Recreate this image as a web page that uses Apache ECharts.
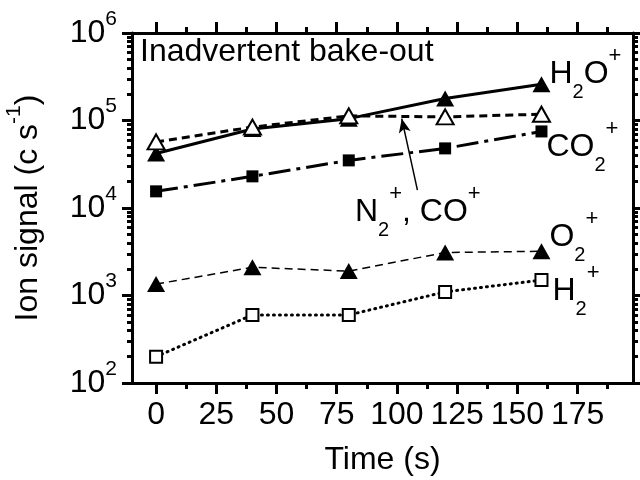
<!DOCTYPE html>
<html>
<head>
<meta charset="utf-8">
<script src="https://cdn.jsdelivr.net/npm/echarts@6/dist/echarts.min.js"></script>
<style>
  html, body { margin: 0; padding: 0; background: #fff; }
  #main { width: 640px; height: 480px; }
</style>
</head>
<body>
<div id="main"></div>
<script>
// time points (s) and ion signals (c s^-1)
var time = [0, 40, 80, 120, 160];
var h2o = [42000, 80000, 105000, 178000, 260000];
var n2co = [57000, 84000, 113000, 110000, 118000];
var co2 = [15500, 23000, 35000, 48000, 75000];
var o2 = [1350, 2100, 1900, 3100, 3200];
var h2 = [200, 600, 600, 1100, 1500];

var xMajor = [0, 25, 50, 75, 100, 125, 150, 175];
var xMinor = [12.5, 37.5, 62.5, 87.5, 112.5, 137.5, 162.5, 187.5];
var yMajor = [1e2, 1e3, 1e4, 1e5, 1e6];
var yMinor = [];
yMajor.slice(0, 4).forEach(function (d) {
  for (var k = 2; k <= 9; k++) yMinor.push(d * k);
});

// arrow pointing at the N2+/CO+ curve
var arrowFrom = [108.5, 16000];
var arrowTo = [102, 105000];

var font = "'Liberation Sans', Arial, sans-serif";

function pairs(ys) {
  return time.map(function (t, i) { return [t, ys[i]]; });
}

var rich = {
  a: { fontSize: 32, lineHeight: 56, verticalAlign: 'middle', color: '#000', fontFamily: font, fontWeight: 'normal' },
  s: { fontSize: 20, height: 20, verticalAlign: 'bottom', color: '#000', fontFamily: font, fontWeight: 'normal' },
  p: { fontSize: 22, height: 20, verticalAlign: 'top', color: '#000', fontFamily: font, fontWeight: 'normal' }
};

function xAx(pos, ticks, len, main) {
  return {
    type: 'value', position: pos, min: -10, max: 198,
    splitLine: { show: false },
    axisLine: { show: main, onZero: false, lineStyle: { color: '#000', width: 3 } },
    axisTick: { show: true, customValues: ticks, length: len, lineStyle: { color: '#000', width: 3 } },
    axisLabel: { show: false }
  };
}
function yAx(pos, ticks, len, main) {
  return {
    type: 'log', logBase: 10, position: pos, min: 100, max: 1e6,
    splitLine: { show: false },
    axisLine: { show: main, onZero: false, lineStyle: { color: '#000', width: 3 } },
    axisTick: { show: true, customValues: ticks, length: len, lineStyle: { color: '#000', width: 3 } },
    axisLabel: { show: false }
  };
}

var xBottom = xAx('bottom', xMajor, 11, true);
xBottom.axisLabel = { show: true, customValues: xMajor, fontSize: 32, color: '#000', margin: 16, fontFamily: font };
xBottom.name = 'Time (s)';
xBottom.nameLocation = 'middle';
xBottom.nameGap = 61;
xBottom.nameTextStyle = { fontSize: 32, color: '#000', fontFamily: font };

var yLeft = yAx('left', yMajor, 10, true);
yLeft.axisLabel = {
  show: true, customValues: yMajor, margin: 15,
  formatter: function (v) {
    return '{b|10}{s|' + Math.round(Math.log10(v)) + '}';
  },
  rich: {
    b: { fontSize: 32, lineHeight: 48, verticalAlign: 'middle', color: '#000', fontFamily: font },
    s: { fontSize: 21, height: 20, verticalAlign: 'top', color: '#000', fontFamily: font }
  }
};
yLeft.name = '{a|Ion signal (c s}{s|-1}{a|)}';
yLeft.nameLocation = 'middle';
yLeft.nameGap = 80;
yLeft.nameTextStyle = {
  rich: {
    a: { fontSize: 32, lineHeight: 48, verticalAlign: 'middle', color: '#000', fontFamily: font },
    s: { fontSize: 21, height: 20, verticalAlign: 'top', color: '#000', fontFamily: font }
  }
};

var chart = echarts.init(document.getElementById('main'));
chart.setOption({
  animation: false,
  backgroundColor: '#fff',
  grid: { left: 132, right: 7, top: 33, bottom: 97, containLabel: false, outerBoundsMode: 'none' },
  title: [
    {
      text: 'Inadvertent bake-out', left: 140, top: 36, padding: 0,
      textStyle: { fontSize: 32, fontWeight: 'normal', color: '#000', fontFamily: font, lineHeight: 32 }
    },
    {
      text: '{a|N}{s|2}{p|+}{a|, CO}{p|+}', left: 355, top: 184, padding: 0,
      textStyle: { fontWeight: 'normal', rich: rich }
    }
  ],
  xAxis: [
    xBottom,
    xAx('bottom', xMinor, 6, false),
    xAx('top', xMajor, 11, true),
    xAx('top', xMinor, 6, false)
  ],
  yAxis: [
    yLeft,
    yAx('left', yMinor, 5, false),
    yAx('right', yMajor, 10, true),
    yAx('right', yMinor, 5, false)
  ],
  series: [
    {
      name: 'H2O+', type: 'line', data: pairs(h2o),
      symbol: 'triangle', symbolSize: [18, 16],
      itemStyle: { color: '#000' },
      lineStyle: { color: '#000', width: 3, type: 'solid' },
      endLabel: { show: true, formatter: '{a|H}{s|2}{a|O}{p|+}', rich: rich, distance: 5, offset: [3, -10] }
    },
    {
      name: 'N2+, CO+', type: 'line', data: pairs(n2co),
      symbol: 'emptyTriangle', symbolSize: [17, 15],
      itemStyle: { color: '#000', borderWidth: 2 },
      lineStyle: { color: '#000', width: 3, type: [8, 5] },
      markLine: {
        silent: true, animation: false,
        symbol: ['none', 'arrow'], symbolSize: [9, 14],
        lineStyle: { color: '#000', width: 1.5, type: 'solid' },
        label: { show: false },
        data: [[{ coord: arrowFrom }, { coord: arrowTo }]]
      }
    },
    {
      name: 'CO2+', type: 'line', data: pairs(co2),
      symbol: 'rect', symbolSize: [12, 12],
      itemStyle: { color: '#000' },
      lineStyle: { color: '#000', width: 3, type: [22, 6, 4, 6] },
      endLabel: { show: true, formatter: '{a|CO}{s|2}{p|+}', rich: rich, distance: 5, offset: [0, 16] }
    },
    {
      name: 'O2+', type: 'line', data: pairs(o2),
      symbol: 'triangle', symbolSize: [18, 16],
      itemStyle: { color: '#000' },
      lineStyle: { color: '#000', width: 1.5, type: [8, 5] },
      endLabel: { show: true, formatter: '{a|O}{s|2}{p|+}', rich: rich, distance: 5, offset: [3, -14] }
    },
    {
      name: 'H2+', type: 'line', data: pairs(h2),
      symbol: 'emptyRect', symbolSize: [12, 12],
      itemStyle: { color: '#000', borderWidth: 2 },
      lineStyle: { color: '#000', width: 3, type: [1, 5], cap: 'round' },
      endLabel: { show: true, formatter: '{a|H}{s|2}{p|+}', rich: rich, distance: 5, offset: [6, 11] }
    }
  ]
});
</script>
</body>
</html>
